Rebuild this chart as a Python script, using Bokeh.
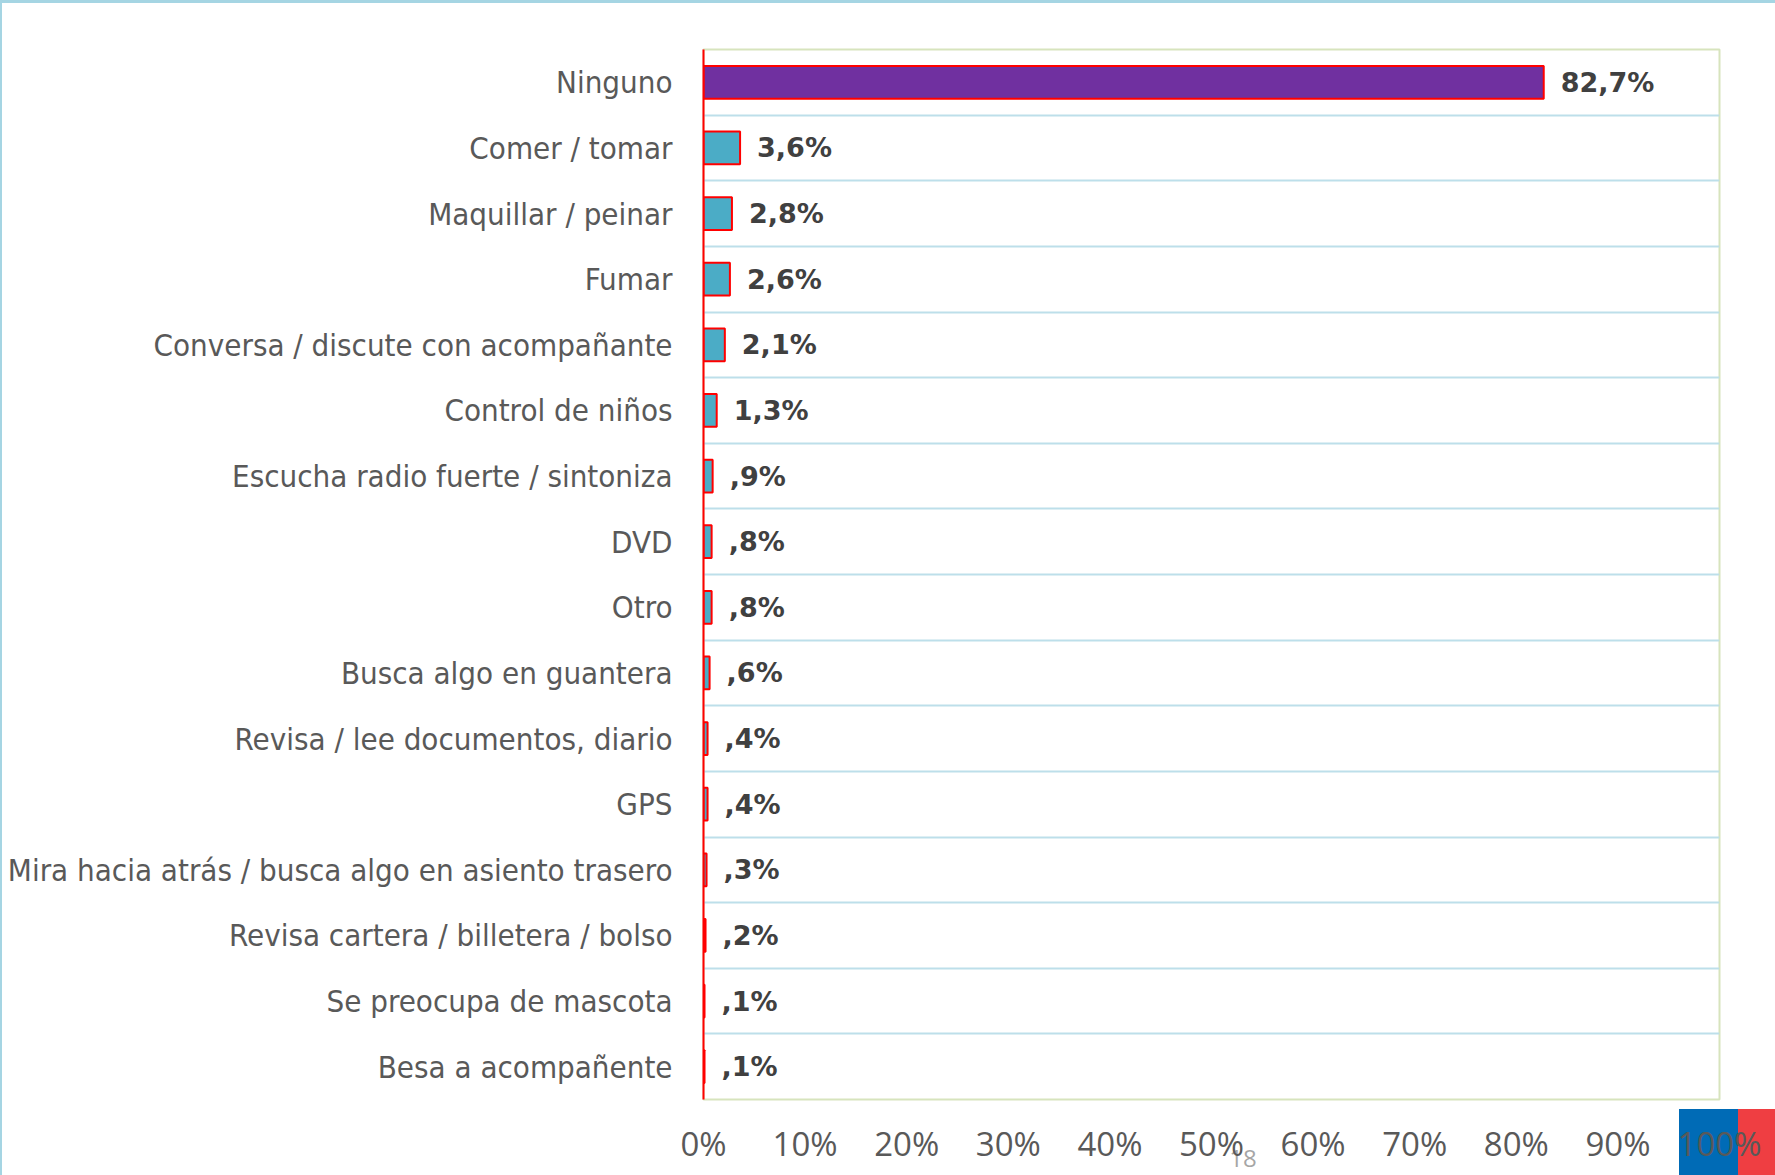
from bokeh.plotting import figure
from bokeh.layouts import column
from bokeh.models import Range1d, FixedTicker, PrintfTickFormatter, Div, ColumnDataSource
from bokeh.core.properties import value
from bokeh.embed import file_html
from bokeh.resources import INLINE

categories = [
    "Ninguno", "Comer / tomar", "Maquillar / peinar", "Fumar",
    "Conversa / discute con acompañante", "Control de niños",
    "Escucha radio fuerte / sintoniza", "DVD", "Otro",
    "Busca algo en guantera", "Revisa / lee documentos, diario", "GPS",
    "Mira hacia atrás / busca algo en asiento trasero",
    "Revisa cartera / billetera / bolso", "Se preocupa de mascota",
    "Besa a acompañente",
]
values = [82.7, 3.6, 2.8, 2.6, 2.1, 1.3, 0.9, 0.8, 0.8, 0.6, 0.4, 0.4, 0.3, 0.2, 0.1, 0.1]
value_labels = ["82,7%", "3,6%", "2,8%", "2,6%", "2,1%", "1,3%", ",9%", ",8%", ",8%",
                ",6%", ",4%", ",4%", ",3%", ",2%", ",1%", ",1%"]
x_ticks = [0, 10, 20, 30, 40, 50, 60, 70, 80, 90, 100]
page_number = "18"

n = len(categories)
ys = [n - i - 0.5 for i in range(n)]
colors = ["#7030A0"] + ["#4BACC6"] * (n - 1)

src = ColumnDataSource(dict(y=ys, v=values, lab=value_labels, c=colors))

fig = figure(frame_width=1016, frame_height=1050, output_backend="svg", toolbar_location=None,
             x_range=Range1d(0, 100), y_range=Range1d(0, n),
             min_border_left=703, min_border_right=48, min_border_top=49, min_border_bottom=67)
fig.background_fill_color = "white"
fig.border_fill_alpha = 0
fig.outline_line_color = "#D7E4BD"
fig.outline_line_width = 2

fig.xgrid.grid_line_color = None
fig.ygrid.ticker = FixedTicker(ticks=list(range(1, n)))
fig.ygrid.grid_line_color = "#BDDFEA"
fig.ygrid.grid_line_width = 2

fig.hbar(y="y", left=0, right="v", height=0.5, fill_color="c", line_color="#FF0000",
         line_width=2, source=src)
fig.text(x="v", y="y", text="lab", x_offset=17, text_baseline="middle", text_align="left",
         text_font=value("DejaVu Sans"), text_font_style="bold", text_font_size="27px",
         text_color="#404040", source=src)

# y axis
fig.yaxis.ticker = FixedTicker(ticks=ys)
fig.yaxis.major_label_overrides = {y: c for y, c in zip(ys, categories)}
fig.yaxis.axis_line_color = "#FF0000"
fig.yaxis.axis_line_width = 2
fig.yaxis.major_tick_line_color = None
fig.yaxis.minor_tick_line_color = None
fig.yaxis.major_label_standoff = 25
fig.yaxis.major_label_text_font = "DejaVu Sans Condensed"
fig.yaxis.major_label_text_font_size = "31px"
fig.yaxis.major_label_text_color = "#595959"

# x axis
fig.xaxis.ticker = FixedTicker(ticks=x_ticks)
fig.xaxis.formatter = PrintfTickFormatter(format="%d%%")
fig.xaxis.axis_line_color = None
fig.xaxis.major_tick_line_color = None
fig.xaxis.minor_tick_line_color = None
fig.xaxis.major_label_standoff = 15
fig.xaxis.major_label_text_font = "Open Sans"
fig.xaxis.major_label_text_font_size = "33px"
fig.xaxis.major_label_text_color = "#595959"

# slide decorations behind the (transparent) figure border: border lines, corner logo, page number
deco_html = (
    '<div style="position:relative;left:-5px;top:-5px;width:1775px;height:1170px;">'
    '<div style="position:absolute;left:0;top:0;width:1775px;height:3px;background:#A5D5E3;"></div>'
    '<div style="position:absolute;left:0;top:0;width:2px;height:1175px;background:#A5D5E3;"></div>'
    '<div style="position:absolute;left:1679px;top:1109px;width:59px;height:66px;background:#006BB6;"></div>'
    '<div style="position:absolute;left:1738px;top:1109px;width:37px;height:66px;background:#EF3E42;"></div>'
    '<div style="position:absolute;left:1223px;top:1146px;width:40px;height:24px;text-align:center;'
    'font-family:\'Open Sans\';font-size:24px;line-height:24px;color:#A6A6A6;">' + page_number + '</div>'
    '</div>'
)
deco = Div(text=deco_html, width=1770, height=1165,
           styles={"position": "absolute", "left": "0px", "top": "0px"})

p = column(deco, fig)

open("out.html", "w").write(file_html(p, INLINE))
